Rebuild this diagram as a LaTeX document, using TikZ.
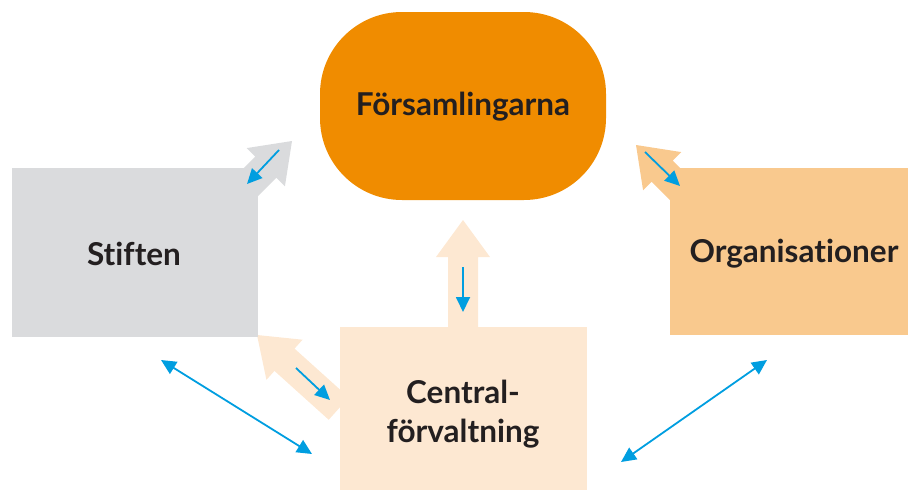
\documentclass[tikz,border=0pt]{standalone}
\usepackage{fontspec}
\setmainfont{Lato}[Ligatures={NoCommon,TeX}]
\usetikzlibrary{arrows.meta}
\definecolor{orangeD}{RGB}{240,140,0}
\definecolor{grayL}{RGB}{218,219,221}
\definecolor{orangeL}{RGB}{249,201,142}
\definecolor{peach}{RGB}{253,232,210}
\definecolor{blueA}{RGB}{0,158,224}
\definecolor{txt}{RGB}{35,31,32}
\newcommand\fatarrow[4]{%
  \begin{scope}[shift={#2}, rotate=#3]
    \fill[#1] (0,0) -- (-37,27) -- (-37,15) -- (-#4,15) -- (-#4,-15) -- (-37,-15) -- (-37,-27) -- cycle;
  \end{scope}}
\tikzset{
  lbl/.style={font=\bfseries\fontsize{31.5}{39}\selectfont, text=txt, align=center},
  blue1/.style={draw=blueA, line width=1.8pt, -{Triangle[length=15pt,width=14pt]}},
  blue2/.style={draw=blueA, line width=1.8pt, {Triangle[length=15pt,width=14pt]}-{Triangle[length=15pt,width=14pt]}},
}
\begin{document}
\begin{tikzpicture}[x=1pt,y=-1pt]
\useasboundingbox (0,0) rectangle (910,490);
% fat arrows
\fatarrow{grayL}{(292,141)}{45}{80}
\fatarrow{orangeL}{(636,145)}{135}{80}
\fatarrow{peach}{(257,335)}{138}{110}
\fatarrow{peach}{(463,220)}{90}{115}
% boxes
\fill[orangeD, rounded corners=82] (320,12) rectangle (606,200);
\node[lbl] (fors) at (463,107) {Församlingarna};
\fill[grayL] (12,168) rectangle (258,337);
\node[lbl] (stift) at (134,254) {Stiften};
\fill[orangeL] (670,168) rectangle (908,335);
\node[lbl] (org) at (794,254) {Organisationer};
\fill[peach] (340,327) rectangle (587,490);
\node[lbl] (cent) at (463,414) {Central-\\förvaltning};
% blue arrows
\coordinate (a1) at (279,150); \coordinate (a2) at (247,184);
\coordinate (b1) at (645,152); \coordinate (b2) at (680,186);
\coordinate (c1) at (296,368); \coordinate (c2) at (330,400);
\coordinate (d1) at (463,267); \coordinate (d2) at (463,312);
\coordinate (e1) at (161,360); \coordinate (e2) at (312,454);
\coordinate (f1) at (621,462); \coordinate (f2) at (767,360);
\draw[blue1] (a1) -- (a2);
\draw[blue1] (b1) -- (b2);
\draw[blue1] (c1) -- (c2);
\draw[blue1] (d1) -- (d2);
\draw[blue2] (e1) -- (e2);
\draw[blue2] (f1) -- (f2);
\end{tikzpicture}
\end{document}
